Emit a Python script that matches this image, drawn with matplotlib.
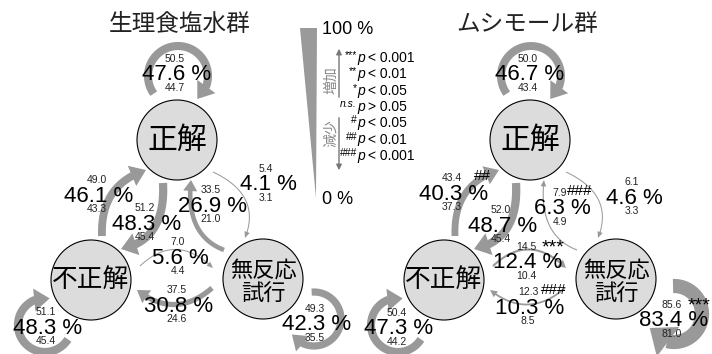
import numpy as np
import matplotlib
matplotlib.use("Agg")
import matplotlib.pyplot as plt
from matplotlib.patches import Circle, Polygon

plt.rcParams['font.family'] = ['Liberation Sans', 'Noto Sans CJK JP', 'DejaVu Sans']

# data: transition probabilities (%) with CI bounds
groups = ['生理食塩水群', 'ムシモール群']
states = ['正解', '不正解', '無反応\n試行']
transitions = ['C→C', 'I→C', 'C→I', 'C→N', 'N→C', 'I→N', 'N→I', 'I→I', 'N→N']

saline_pct = [47.6, 46.1, 48.3, 4.1, 26.9, 5.6, 30.8, 48.3, 42.3]
saline_hi = [50.5, 49.0, 51.2, 5.4, 33.5, 7.0, 37.5, 51.1, 49.3]
saline_lo = [44.7, 43.3, 45.4, 3.1, 21.0, 4.4, 24.6, 45.4, 35.5]
saline_sig = ['', '', '', '', '', '', '', '', '']

muscimol_pct = [46.7, 40.3, 48.7, 4.6, 6.3, 12.4, 10.3, 47.3, 83.4]
muscimol_hi = [50.0, 43.4, 52.0, 6.1, 7.9, 14.5, 12.3, 50.4, 85.6]
muscimol_lo = [43.4, 37.3, 45.4, 3.3, 4.9, 10.4, 8.5, 44.2, 81.0]
muscimol_sig = ['', '##', '', '', '###', '***', '###', '', '***']

legend_marks = ['***', '**', '*', 'n.s.', '#', '##', '###']
legend_rest = ['< 0.001', '< 0.01', '< 0.05', '> 0.05', '< 0.05', '< 0.01', '< 0.001']

# layout (pixel coordinates, y downwards) for the left panel
state_xy = [(177, 140), (91, 280), (263, 279)]
shapes = {
    'C→C': ('loop', (178, 76), 30, 144, 410),
    'I→C': ('bez', (102, 236), (100, 185), (146, 170)),
    'C→I': ('bez', (163, 183), (166, 240), (121, 249)),
    'C→N': ('bez', (213, 172), (262, 195), (245, 238)),
    'N→C': ('bez', (224, 250), (185, 235), (191, 180)),
    'I→N': ('bez', (140, 266), (176, 232), (213, 268)),
    'N→I': ('bez', (212, 288), (175, 320), (137, 290)),
    'I→I': ('loop', (45, 325), 27, 32, 280),
    'N→N': ('loop', (314, 319), 27, 265, 505),
}
# right panel uses the same shapes, except its larger no-response loop
shapes_right = dict(shapes)
shapes_right['N→N'] = ('loop', (321, 314), 28, 268, 510)

label_xy = [
    [(177, 74), (99, 195), (147, 223), (268, 184), (213, 205),
     (180, 257), (179, 305), (48, 327), (317, 324)],
    [(530, 74), (454, 193), (503, 225), (634, 197), (562, 208),
     (528, 262), (530, 307), (399, 328), (674, 320)],
]
panel_dx = [0, 353]
title_x = [180, 527]
arrow_col = '#999999'
pct_px = 16 * 100 / 72  # font size of the percentage labels in pixels


def path_points(shape, dx):
    if shape[0] == 'loop':
        (cx, cy), r, a0, a1 = shape[1:]
        a = np.radians(np.linspace(a0, a1, 150))
        return np.column_stack([cx + dx + r * np.cos(a), cy + r * np.sin(a)])
    p0, c, p1 = [np.array(p, float) + [dx, 0] for p in shape[1:]]
    t = np.linspace(0, 1, 80)[:, None]
    return (1 - t) ** 2 * p0 + 2 * (1 - t) * t * c + t ** 2 * p1


def draw_arrow(ax, pts, w):
    hl = 1.3 * w + 4
    hw = 2.4 * w + 3
    s = np.concatenate([[0], np.cumsum(np.hypot(*np.diff(pts, axis=0).T))])
    cut = s[-1] - hl
    base = np.array([np.interp(cut, s, pts[:, 0]), np.interp(cut, s, pts[:, 1])])
    body = np.vstack([pts[s < cut], base])
    ax.plot(body[:, 0], body[:, 1], color=arrow_col, lw=w * 0.72,
            solid_capstyle='butt', zorder=2)
    tip = pts[-1]
    d = (tip - base) / np.hypot(*(tip - base))
    n = np.array([-d[1], d[0]])
    b = base - d * 1.0
    ax.add_patch(Polygon([tip, b + n * hw / 2, b - n * hw / 2], closed=True,
                         fc=arrow_col, ec='none', zorder=2))


fig = plt.figure(figsize=(7.12, 3.54), dpi=100)
ax = fig.add_axes([0, 0, 1, 1])
ax.set_xlim(0, 712)
ax.set_ylim(354, 0)
ax.axis('off')

panels = [
    (saline_pct, saline_hi, saline_lo, saline_sig),
    (muscimol_pct, muscimol_hi, muscimol_lo, muscimol_sig),
]

for g, (pct, hi, lo, sig) in enumerate(panels):
    dx = panel_dx[g]
    shp = shapes if g == 0 else shapes_right
    ax.text(title_x[g], 25, groups[g], fontsize=17, ha='center', va='center', color='#222222')

    for k, tr in enumerate(transitions):
        w = max(pct[k] * 0.17, 1.0)
        draw_arrow(ax, path_points(shp[tr], dx), w)

    for (x, y), name in zip(state_xy, states):
        ax.add_patch(Circle((x + dx, y), 40, fc='#dcdcdc', ec='black', lw=0.8, zorder=3))
    sx, sy = state_xy[0]
    ax.text(sx + dx, sy + 1, states[0], fontsize=21.5, ha='center', va='center', zorder=5)
    sx, sy = state_xy[1]
    ax.text(sx + dx, sy, states[1], fontsize=18.5, ha='center', va='center', zorder=5)
    sx, sy = state_xy[2]
    for j, line in enumerate(states[2].split('\n')):
        ax.text(sx + dx, sy - 8 + 24 * j, line, fontsize=16, ha='center', va='center', zorder=5)

    for k in range(len(transitions)):
        x, y = label_xy[g][k]
        label = f'{pct[k]:.1f} %'
        ax.text(x, y + 1, label, fontsize=16, ha='center', va='center', zorder=6)
        ax.text(x - 2, y - 15, f'{hi[k]:.1f}', fontsize=7.5, ha='center', va='center',
                color='#222222', zorder=6)
        ax.text(x - 2, y + 14, f'{lo[k]:.1f}', fontsize=7.5, ha='center', va='center',
                color='#222222', zorder=6)
        if sig[k]:
            ndig = len(label) - 3
            half = pct_px * (0.556 * ndig + 0.278 * 2 + 0.889) / 2
            big = sig[k].startswith('*')
            ax.text(x + half + 2, y - 14 if big else y - 17, sig[k],
                    fontsize=14 if big else 11, ha='right', va='center', zorder=6)

# legend in the middle
ax.add_patch(Polygon([(300, 28), (317, 28), (316, 198)], closed=True, fc='#9a9a9a', ec='none'))
ax.text(322, 30, '100 %', fontsize=13, ha='left', va='center')
ax.text(322, 200, '0 %', fontsize=13, ha='left', va='center')
ax.annotate('', xy=(339, 46), xytext=(339, 100),
            arrowprops=dict(arrowstyle='-|>', color='#777777', lw=1, mutation_scale=8))
ax.annotate('', xy=(339, 173), xytext=(339, 115),
            arrowprops=dict(arrowstyle='-|>', color='#777777', lw=1, mutation_scale=8))
ax.text(331, 80, '増加', fontsize=10, rotation=90, ha='center', va='center', color='#888888')
ax.text(331, 133, '減少', fontsize=10, rotation=90, ha='center', va='center', color='#888888')
for i, (m, r) in enumerate(zip(legend_marks, legend_rest)):
    y = 58 + 16.3 * i
    ax.text(357, y - 3, m, fontsize=7.5, ha='right', va='center',
            style='italic' if m == 'n.s.' else 'normal')
    ax.text(357, y, 'p', fontsize=10, ha='left', va='center', style='italic')
    ax.text(368, y, r, fontsize=10, ha='left', va='center')

fig.savefig('out.png', dpi=100)
